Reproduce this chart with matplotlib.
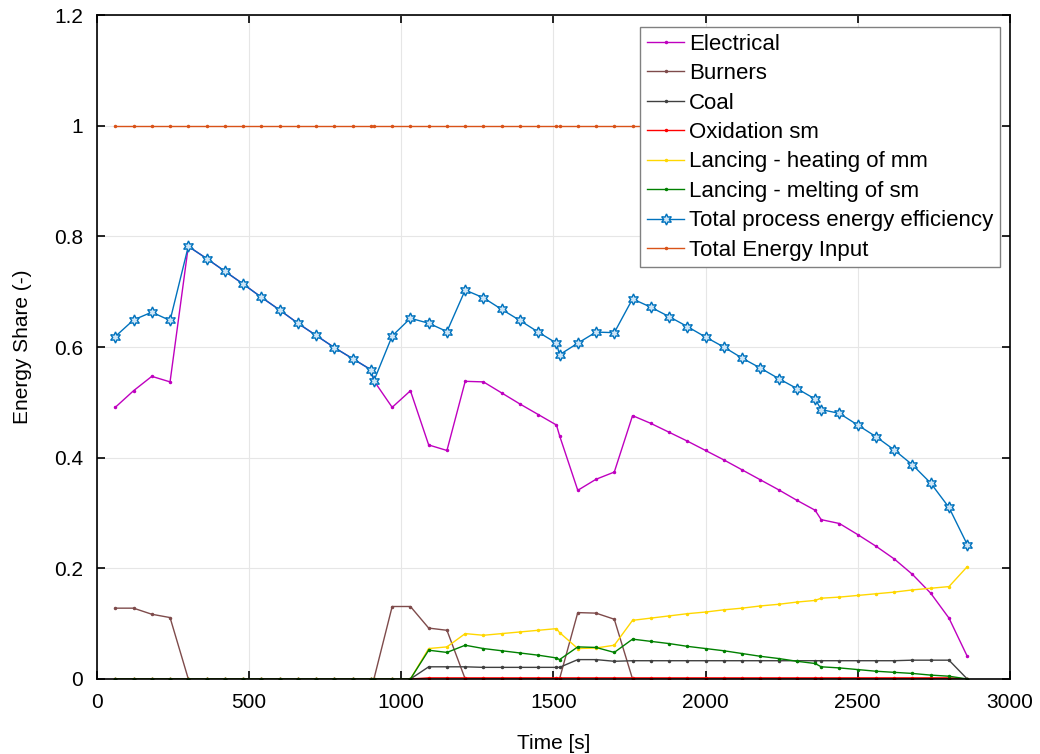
import matplotlib
matplotlib.use("Agg")
import matplotlib.pyplot as plt

plt.rcParams["font.family"] = ["Liberation Sans", "DejaVu Sans"]

# sample times (s); extra samples at the end of each charge
time_s = [60, 120, 180, 240, 300, 360, 420, 480, 540, 600, 660, 720, 780, 840, 900,
          910, 970, 1030, 1090, 1150, 1210, 1270, 1330, 1390, 1450, 1510,
          1520, 1580, 1640, 1700, 1760, 1820, 1880, 1940, 2000, 2060, 2120, 2180,
          2240, 2300, 2360, 2380, 2440, 2500, 2560, 2620, 2680, 2740, 2800, 2860]

electrical = [0.491, 0.521, 0.547, 0.537, 0.782, 0.760, 0.737, 0.714, 0.690, 0.667,
              0.643, 0.621, 0.599, 0.579, 0.559, 0.539, 0.491, 0.521, 0.423, 0.413,
              0.538, 0.537, 0.517, 0.497, 0.478, 0.459, 0.440, 0.341, 0.361, 0.374,
              0.476, 0.462, 0.446, 0.430, 0.413, 0.396, 0.378, 0.360, 0.342, 0.323,
              0.305, 0.288, 0.281, 0.261, 0.240, 0.217, 0.189, 0.155, 0.110, 0.041]

burners = [0.128, 0.128, 0.117, 0.111, 0, 0, 0, 0, 0, 0,
           0, 0, 0, 0, 0, 0, 0.131, 0.131, 0.092, 0.088,
           0, 0, 0, 0, 0, 0, 0, 0.120, 0.119, 0.108,
           0, 0, 0, 0, 0, 0, 0, 0, 0, 0,
           0, 0, 0, 0, 0, 0, 0, 0, 0, 0]

coal = [0, 0, 0, 0, 0, 0, 0, 0, 0, 0,
        0, 0, 0, 0, 0, 0, 0, 0, 0.022, 0.022,
        0.022, 0.021, 0.021, 0.021, 0.021, 0.021, 0.021, 0.035, 0.035, 0.032,
        0.033, 0.033, 0.033, 0.033, 0.033, 0.033, 0.033, 0.033, 0.033, 0.033,
        0.033, 0.033, 0.033, 0.033, 0.033, 0.033, 0.034, 0.034, 0.034, 0]

oxidation = [0, 0, 0, 0, 0, 0, 0, 0, 0, 0,
             0, 0, 0, 0, 0, 0, 0, 0, 0.002, 0.002,
             0.002, 0.002, 0.002, 0.002, 0.002, 0.002, 0.002, 0.002, 0.002, 0.002,
             0.002, 0.002, 0.002, 0.002, 0.002, 0.002, 0.002, 0.002, 0.002, 0.002,
             0.002, 0.002, 0.002, 0.002, 0.002, 0.002, 0.002, 0.002, 0.002, 0]

lancing_heat = [0, 0, 0, 0, 0, 0, 0, 0, 0, 0,
                0, 0, 0, 0, 0, 0, 0, 0, 0.055, 0.058,
                0.082, 0.079, 0.082, 0.085, 0.088, 0.091, 0.084, 0.055, 0.056, 0.061,
                0.106, 0.110, 0.114, 0.118, 0.121, 0.125, 0.128, 0.132, 0.135, 0.139,
                0.142, 0.146, 0.148, 0.151, 0.154, 0.157, 0.161, 0.164, 0.167, 0.203]

lancing_melt = [0, 0, 0, 0, 0, 0, 0, 0, 0, 0,
                0, 0, 0, 0, 0, 0, 0, 0, 0.052, 0.048,
                0.061, 0.055, 0.051, 0.047, 0.043, 0.038, 0.035, 0.058, 0.057, 0.048,
                0.072, 0.068, 0.064, 0.059, 0.055, 0.051, 0.046, 0.041, 0.037, 0.032,
                0.028, 0.022, 0.020, 0.017, 0.014, 0.012, 0.010, 0.007, 0.005, 0]

total_eff = [0.619, 0.649, 0.663, 0.648, 0.782, 0.760, 0.737, 0.714, 0.690, 0.667,
             0.643, 0.621, 0.599, 0.579, 0.559, 0.539, 0.620, 0.652, 0.643, 0.628,
             0.703, 0.689, 0.668, 0.648, 0.627, 0.607, 0.586, 0.607, 0.627, 0.626,
             0.687, 0.672, 0.655, 0.637, 0.618, 0.600, 0.580, 0.562, 0.543, 0.525,
             0.506, 0.487, 0.480, 0.459, 0.438, 0.414, 0.387, 0.354, 0.310, 0.243]

total_input = [1.0] * len(time_s)

series = [
    ("Electrical", electrical, "#BF00BF"),
    ("Burners", burners, "#7E4B4B"),
    ("Coal", coal, "#404040"),
    ("Oxidation sm", oxidation, "#FF0000"),
    ("Lancing - heating of mm", lancing_heat, "#FFD700"),
    ("Lancing - melting of sm", lancing_melt, "#008000"),
]

fig = plt.figure(figsize=(10.4, 7.54), dpi=100)
ax = fig.add_axes([0.0933, 0.0995, 0.8777, 0.8805])

for name, vals, col in series:
    ax.plot(time_s, vals, color=col, lw=1.0, marker=".", ms=3, label=name)
ax.plot(time_s, total_eff, color="#0072BD", lw=1.0, marker=(6, 1, 0), ms=8,
        mfc="#CFE6F7", mec="#0072BD", mew=1.0, label="Total process energy efficiency")
ax.plot(time_s, total_input, color="#D95319", lw=1.0, marker=".", ms=3,
        label="Total Energy Input")

ax.set_xlim(0, 3000)
ax.set_ylim(0, 1.2)
ax.set_xticks(range(0, 3001, 500))
ax.set_yticks([0, 0.2, 0.4, 0.6, 0.8, 1.0, 1.2])
ax.set_yticklabels(["0", "0.2", "0.4", "0.6", "0.8", "1", "1.2"])
ax.tick_params(direction="in", top=True, right=True, length=6, width=1.2,
               labelsize=15, pad=10)
for s in ax.spines.values():
    s.set_linewidth(1.2)
ax.grid(True, color="#E6E6E6", lw=0.8)
ax.set_axisbelow(True)

ax.set_xlabel("Time [s]", fontsize=15, labelpad=16)
ax.set_ylabel("Energy Share (-)", fontsize=15, labelpad=16)

leg = ax.legend(loc="upper right", bbox_to_anchor=(0.989, 0.982), borderaxespad=0,
                fontsize=16, fancybox=False, framealpha=1, edgecolor="#808080",
                handlelength=1.7, handletextpad=0.2, labelspacing=0.38,
                borderpad=0.3)
leg.get_frame().set_linewidth(1.0)

fig.savefig("out.png", dpi=100, facecolor="white")
